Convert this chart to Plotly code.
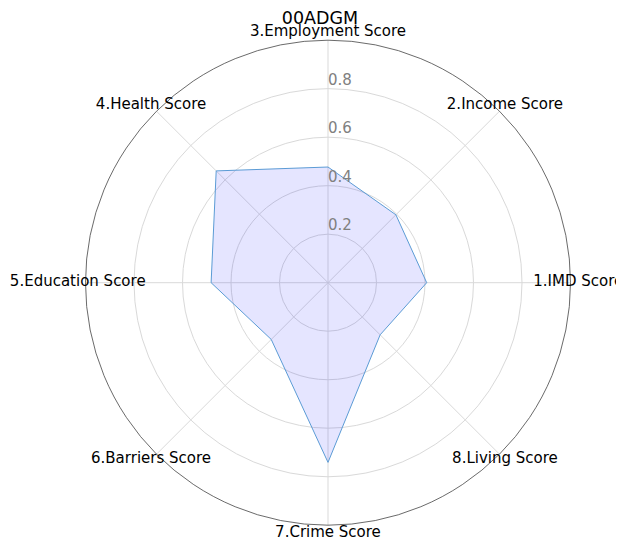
import plotly.graph_objects as go

categories = ["1.IMD Score", "2.Income Score", "3.Employment Score", "4.Health Score",
              "5.Education Score", "6.Barriers Score", "7.Crime Score", "8.Living Score"]
values = [0.407, 0.396, 0.477, 0.652, 0.482, 0.331, 0.741, 0.304]
radial_ticks = [0.2, 0.4, 0.6, 0.8]
title = "00ADGM"

fig = go.Figure()
fig.add_trace(go.Scatterpolar(
    r=values + values[:1],
    theta=categories + categories[:1],
    mode="lines",
    fill="toself",
    fillcolor="rgba(0,0,255,0.1)",
    line=dict(color="#5b9bd5", width=1),
    showlegend=False,
    hoverinfo="skip",
))
# radial tick labels, placed just above each ring like matplotlib
fig.add_trace(go.Scatterpolar(
    r=radial_ticks,
    theta=[categories[2]] * len(radial_ticks),
    mode="text",
    text=[f"{t:.1f}" for t in radial_ticks],
    textposition="top right",
    textfont=dict(size=15, color="#808080"),
    showlegend=False,
    hoverinfo="skip",
    cliponaxis=False,
))
# category labels centred just outside the outer ring (on an overlaid, wider polar)
fig.add_trace(go.Scatterpolar(
    r=[1.032] * len(categories),
    theta=categories,
    mode="text",
    text=categories,
    textposition="middle center",
    textfont=dict(size=15, color="black"),
    showlegend=False,
    hoverinfo="skip",
    cliponaxis=False,
    subplot="polar2",
))

cx, cy, rad = 320, 541 - 274.7, 242.5
rmax2 = 1.09
rad2 = rad * rmax2
fig.update_layout(
    width=624, height=541,
    margin=dict(l=0, r=0, t=0, b=0),
    paper_bgcolor="white",
    font=dict(family="DejaVu Sans", size=15, color="black"),
    title=dict(text=title, x=0.5, xanchor="center", y=1 - 4 / 541, yanchor="top",
               font=dict(size=17.5, color="black")),
    polar=dict(
        domain=dict(x=[(cx - rad) / 624, (cx + rad) / 624],
                    y=[(cy - rad) / 541, (cy + rad) / 541]),
        bgcolor="white",
        radialaxis=dict(range=[0, 1], tickvals=radial_ticks, showticklabels=False,
                        showline=False, ticks="", gridcolor="#d9d9d9", gridwidth=1),
        angularaxis=dict(rotation=0, direction="counterclockwise", showline=True,
                         linecolor="#444444", linewidth=0.8, gridcolor="#d9d9d9",
                         ticks="", showticklabels=False),
    ),
    polar2=dict(
        domain=dict(x=[(cx - rad2) / 624, (cx + rad2) / 624],
                    y=[max(0, (cy - rad2) / 541), (cy + rad2) / 541]),
        bgcolor="rgba(0,0,0,0)",
        radialaxis=dict(range=[0, rmax2], visible=False),
        angularaxis=dict(rotation=0, direction="counterclockwise", categoryarray=categories,
                         showline=False, showgrid=False, ticks="", showticklabels=False),
    ),
)
fig.write_html("out.html")
